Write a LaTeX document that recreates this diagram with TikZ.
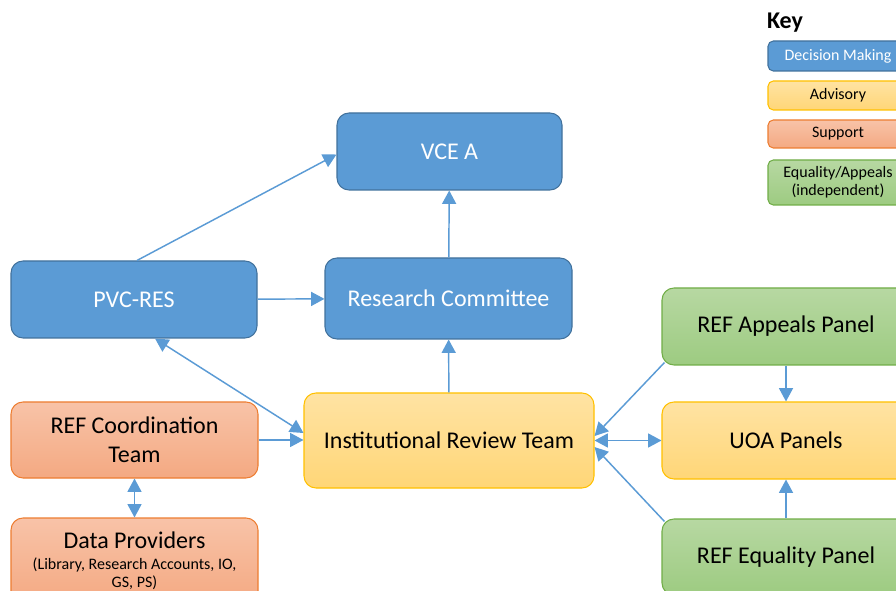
\documentclass[tikz,border=0pt]{standalone}
\usepackage{fontspec}
\setmainfont{Carlito}
\usetikzlibrary{arrows.meta,calc}

\definecolor{arw}{HTML}{5B9BD5}
\definecolor{decline}{HTML}{41719C}
\definecolor{advline}{HTML}{FFC000}
\definecolor{advtop}{HTML}{FFE3A3}
\definecolor{advbot}{HTML}{FFD677}
\definecolor{supline}{HTML}{ED7D31}
\definecolor{suptop}{HTML}{F8C3A8}
\definecolor{supbot}{HTML}{F4A982}
\definecolor{indline}{HTML}{70AD47}
\definecolor{indtop}{HTML}{B7D8A2}
\definecolor{indbot}{HTML}{9DCB81}
\tikzset{
  box/.style={rounded corners=9pt, line width=0.8pt, align=center, font=\fontsize{18}{21.75}\selectfont},
  decide/.style={box, draw=decline, fill=arw, text=white},
  advise/.style={box, draw=advline, top color=advtop, bottom color=advbot},
  support/.style={box, draw=supline, top color=suptop, bottom color=supbot},
  indep/.style={box, draw=indline, top color=indtop, bottom color=indbot},
  keybox/.style={rounded corners=4pt, minimum width=105pt, font=\fontsize{12}{13.5}\selectfont},
  link/.style={draw=arw, line width=1.1pt, -{Triangle[length=10pt,width=10.5pt]}},
  dlink/.style={link, {Triangle[length=10pt,width=10.5pt]}-{Triangle[length=10pt,width=10.5pt]}},
}

\begin{document}
\begin{tikzpicture}[x=0.75pt,y=-0.75pt]
	\clip (0,0) rectangle (896,591);
	%\draw[help lines] (0,0) grid (896,591);

	%DECISION MAKING
	\node[decide, minimum width=168.75pt, minimum height=57.75pt] (vce) at (449.5,151.5) {VCE A};
	\node[decide, minimum width=184.5pt, minimum height=57.75pt] (pvc) at (134,299.5) {PVC-RES};
	\node[decide, minimum width=185.25pt, minimum height=60.75pt] (rc) at (448.5,298.5) {Research Committee};

	%ADVISORY
	\node[advise, minimum width=217.5pt, minimum height=71.25pt] (irt) at (449,440.5) {Institutional Review Team};
	\node[advise, minimum width=186pt, minimum height=57.75pt] (uoa) at (786,440.5) {UOA Panels};

	%SUPPORT
	\node[support, minimum width=185.25pt, minimum height=57pt] (coord) at (134.5,440) {REF Coordination\\Team};
	\node[support, minimum width=185.25pt, minimum height=63.75pt] (data) at (134.5,560.5)
		{Data Providers\\[-6pt]{\fontsize{12}{14.25}\selectfont (Library, Research Accounts, IO,}\\[-8pt]{\fontsize{12}{14.25}\selectfont GS, PS)}};

	%EQUALITY / APPEALS
	\node[indep, minimum width=186pt, minimum height=57.75pt] (appeal) at (786,326.5) {REF Appeals Panel};
	\node[indep, minimum width=186pt, minimum height=57pt] (equal) at (786,557) {REF Equality Panel};

	%KEY
	\node[font=\fontsize{18}{20}\selectfont\bfseries] (key) at (785,23) {Key};
	\node[decide, keybox, minimum height=22.5pt] (kdec) at (838,56) {Decision Making};
	\node[advise, keybox, minimum height=21.75pt] (kadv) at (838,95.5) {Advisory};
	\node[support, keybox, minimum height=21pt] (ksup) at (838,134) {Support};
	\node[indep, keybox, minimum height=33.75pt] (kind) at (838,182.5) {Equality/Appeals\\(independent)};

	%LINKS
	\draw[link] ($(pvc.north)+(3,0)$) -- ($(vce.west)+(0,3)$);
	\draw[link] (rc) -- (vce);
	\draw[link] (pvc) -- (rc);
	\draw[link] (irt) -- (rc);
	\draw[dlink] ($(pvc.south)+(21,0)$) -- ($(irt.west)+(0,-7.5)$);
	\draw[link] (coord.east) -- (coord.east -| irt.west);
	\draw[dlink] (coord) -- (data);
	\draw[dlink] (irt) -- (uoa);
	\draw[link] ($(appeal.south west)+(3,-3)$) -- ($(irt.east)+(0,-4.5)$);
	\draw[link] ($(equal.north west)+(3,3)$) -- ($(irt.east)+(0,6.5)$);
	\draw[link] (appeal) -- (uoa);
	\draw[link] (equal) -- (uoa);
\end{tikzpicture}
\end{document}
